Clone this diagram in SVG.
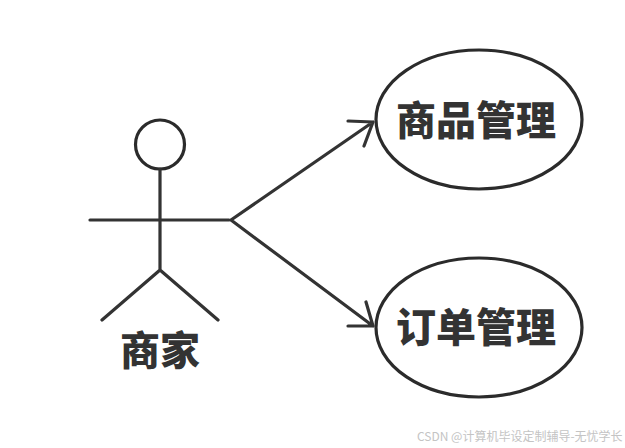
<svg xmlns="http://www.w3.org/2000/svg" width="625" height="448" viewBox="0 0 625 448">
<style>
.l{fill:none;stroke:#333;stroke-width:3.2;stroke-linecap:round;stroke-linejoin:round}
.e{fill:#fff;stroke:#2b2b2b;stroke-width:3.2}
.t{font-family:"Noto Sans CJK SC","Noto Sans",sans-serif;font-weight:900;font-size:40px;fill:#333;text-anchor:middle}
.w{font-family:"Noto Sans CJK SC","Noto Sans",sans-serif;font-size:12px;fill:#c4c4c4}
</style>
<rect width="625" height="448" fill="#fff"/>
<g id="connectors">
<path class="l" d="M231 220L373 122M348 121L373 122L364 146M231 220L373 326M366 302L373 326L348 326"/>
</g>
<g id="actor">
<circle class="e" cx="160" cy="144.500" r="24.500"/>
<path class="l" d="M160 169V270M90 220H229M160 270L102 320M160 270L218 320"/>
<text class="t" x="160" y="365">商家</text>
</g>
<g id="node1">
<ellipse class="e" cx="479" cy="119.500" rx="103" ry="69.500"/>
<text class="t" x="476" y="135">商品管理</text>
</g>
<g id="node2">
<ellipse class="e" cx="479" cy="327.500" rx="103" ry="69.500"/>
<text class="t" x="476" y="342">订单管理</text>
</g>
<text class="w" x="417" y="441">CSDN @计算机毕设定制辅导-无忧学长</text>
</svg>
